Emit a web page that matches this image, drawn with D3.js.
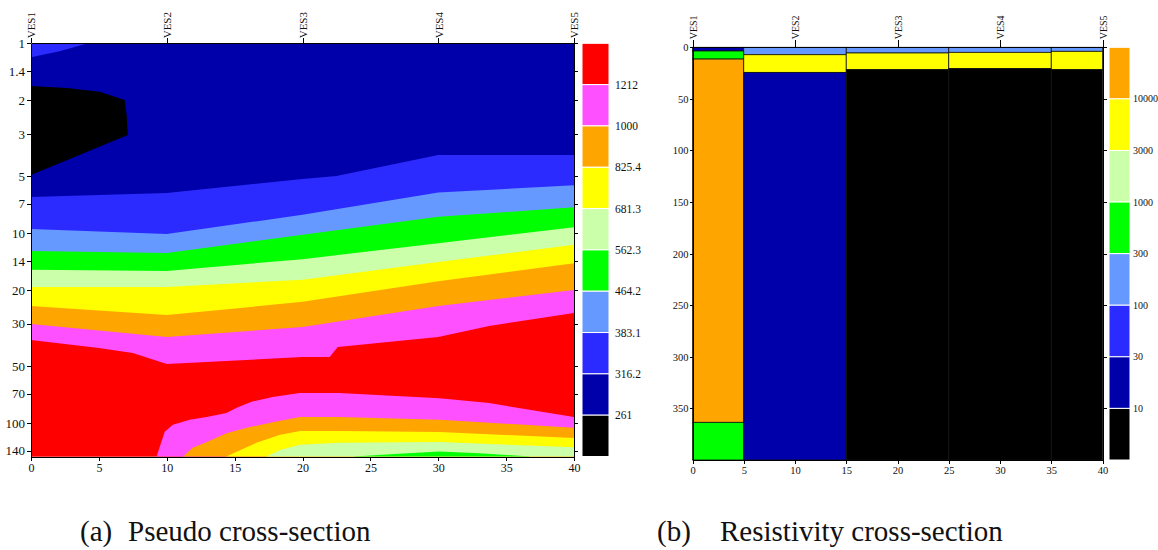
<!DOCTYPE html>
<html>
<head>
<meta charset="utf-8">
<script src="https://cdn.jsdelivr.net/npm/d3@7"></script>
<style>
	body { margin: 0; background: #fff; }
	svg text { font-family: "Liberation Serif", "Times New Roman", serif; fill: #111; }
	.axis path, .axis line { stroke: #000; shape-rendering: crispEdges; }
</style>
</head>
<body>
<svg id="chart" width="1158" height="550"></svg>
<script>
// ---------- data ----------
const vesNames = ['VES1', 'VES2', 'VES3', 'VES4', 'VES5'];
const vesPos = [0, 10, 20, 30, 40];

// pseudo section (AB/2 in m, log axis)
const pseudoTicks = [1, 1.4, 2, 3, 5, 7, 10, 14, 20, 30, 50, 70, 100, 140];
const pseudoLevels = [1212, 1000, 825.4, 681.3, 562.3, 464.2, 383.1, 316.2, 261];
const pseudoColors = ['#ff0000', '#ff50ff', '#ffa500', '#ffff00', '#ccffaa', '#00ff00', '#6699ff', '#2b2bff', '#0000aa', '#000000'];

// contour boundaries read from the section: [distance, AB/2]
const topBlue = [[0, 1.185], [2.1, 1.1], [4.2, 1.0]];
const blackZone = [[0, 1.68], [2.65, 1.72], [5.07, 1.8], [6.9, 1.99], [7.05, 2.4], [7.13, 3.04], [0, 4.94]];
const toBlue = [[0, 6.45], [10, 6.14], [20, 5.18], [22.5, 5.0], [30, 3.88], [40, 3.88]];
const toLightBlue = [[0, 9.5], [10, 10.1], [20, 8.0], [30, 6.1], [40, 5.6]];
const toGreen = [[0, 12.4], [10, 12.7], [20, 10.2], [30, 8.2], [40, 7.3]];
const toPaleGreen = [[0, 15.6], [10, 15.8], [20, 13.7], [30, 11.3], [40, 9.3]];
const toYellow = [[0, 19.2], [10, 19.2], [20, 17.6], [30, 14.2], [40, 11.5]];
const toOrange = [[0, 24.2], [10, 27.0], [20, 23.0], [30, 17.9], [40, 14.4]];
const toMagenta = [[0, 30.1], [10, 35.2], [20, 31.2], [30, 24.2], [40, 19.9]];
const toRed = [[0, 36.5], [5, 40.2], [7.5, 42.7], [10, 48.9], [20, 44.9], [22, 44.9], [22.6, 39.7], [30, 35.2], [33.75, 30.8], [40, 26.3]];
const lowMagenta = [[9.25, 150], [9.85, 111], [10.45, 102], [11.7, 96], [12.95, 93], [14.4, 88.5], [15.15, 83], [16.3, 77], [17.8, 73], [19.8, 69.5], [22.7, 69.5], [25.15, 71], [30.1, 74], [33.75, 78.5], [40, 93]];
const lowOrange = [[11.2, 150], [11.9, 135], [12.95, 126], [14.4, 113], [16.1, 105], [17.8, 99], [19.8, 93], [22.7, 93], [30.1, 96], [40, 106]];
const lowYellow = [[14.4, 150], [15.4, 139], [16.6, 127], [18.3, 115.5], [19.8, 110], [22.7, 110], [30.1, 111.5], [40, 120]];
const lowPaleGreen = [[17.35, 150], [18.3, 139], [19.8, 130], [22.7, 127], [30.1, 126], [40, 134]];
const lowGreen = [[23.8, 150], [27.1, 145], [30.1, 141], [33.0, 144], [36.7, 150]];

// resistivity section (depth in m)
const resEdges = [0, 5, 15, 25, 35, 40];
const resTicks = [0, 50, 100, 150, 200, 250, 300, 350];
const resLevels = [10000, 3000, 1000, 300, 100, 30, 10];
const resColors = ['#ffa500', '#ffff00', '#ccffaa', '#00ff00', '#6699ff', '#2b2bff', '#0000aa', '#000000'];
// [top, bottom, resistivity]
const ves1Layers = [[0, 3.6, 20], [3.6, 11.4, 500], [11.4, 363.5, 15000], [363.5, 400, 500]];
const ves2Layers = [[0, 7.2, 150], [7.2, 24.3, 5000], [24.3, 400, 20]];
const ves3Layers = [[0, 5.5, 150], [5.5, 21.7, 5000], [21.7, 400, 5]];
const ves4Layers = [[0, 4.9, 150], [4.9, 20.7, 5000], [20.7, 400, 5]];
const ves5Layers = [[0, 3.9, 150], [3.9, 21.7, 5000], [21.7, 400, 5]];

const svg = d3.select('#chart');

// ================= (a) pseudo cross-section =================
const xL = d3.scaleLinear().domain([0, 40]).range([31, 574]);
const yL = d3.scaleLog().domain([1, 150]).range([43.3, 456.5]);

svg.append('clipPath').attr('id', 'clipL')
	.append('rect')
	.attr('x', xL(0)).attr('y', yL(1))
	.attr('width', xL(40) - xL(0)).attr('height', yL(150) - yL(1));

const gL = svg.append('g').attr('clip-path', 'url(#clipL)');

gL.append('rect')
	.attr('x', xL(0)).attr('y', yL(1))
	.attr('width', xL(40) - xL(0)).attr('height', yL(150) - yL(1))
	.attr('fill', pseudoColors[8]);

// small blue patch at the top left
gL.append('path')
	.datum(topBlue)
	.attr('fill', pseudoColors[7])
	.attr('d', d3.area().x(p => xL(p[0])).y0(yL(1)).y1(p => yL(p[1])));

gL.append('path')
	.datum(blackZone)
	.attr('fill', pseudoColors[9])
	.attr('d', d3.line().x(p => xL(p[0])).y(p => yL(p[1])).curve(d3.curveLinearClosed));

const bands = [
	[toBlue, 7], [toLightBlue, 6], [toGreen, 5], [toPaleGreen, 4], [toYellow, 3],
	[toOrange, 2], [toMagenta, 1], [toRed, 0],
	[lowMagenta, 1], [lowOrange, 2], [lowYellow, 3], [lowPaleGreen, 4], [lowGreen, 5]
];

const bandArea = d3.area()
	.x(p => xL(p[0]))
	.y0(p => yL(p[1]))
	.y1(yL(150) + 2);

bands.forEach(b => {
	gL.append('path')
		.datum(b[0])
		.attr('fill', pseudoColors[b[1]])
		.attr('d', bandArea);
});

// axes
svg.append('g').attr('class', 'axis')
	.attr('transform', `translate(${xL(0)},0)`)
	.call(d3.axisLeft(yL).tickValues(pseudoTicks).tickFormat(d => d).tickSize(4).tickSizeOuter(0).tickPadding(2))
	.selectAll('text').style('font-size', '13px');

svg.append('g').attr('class', 'axis')
	.attr('transform', `translate(${xL(40)},0)`)
	.call(d3.axisRight(yL).tickValues(pseudoTicks).tickFormat('').tickSize(4).tickSizeOuter(0));

svg.append('g').attr('class', 'axis')
	.attr('transform', `translate(0,${yL(150)})`)
	.call(d3.axisBottom(xL).tickValues(d3.range(0, 41, 5)).tickSize(4).tickSizeOuter(0).tickPadding(3))
	.selectAll('text').style('font-size', '12px');

svg.append('g').attr('class', 'axis')
	.attr('transform', `translate(0,${yL(1)})`)
	.call(d3.axisTop(xL).tickValues(vesPos).tickFormat('').tickSize(5).tickSizeOuter(0));

svg.append('g').selectAll('text')
	.data(vesNames)
	.enter().append('text')
	.attr('transform', (d, i) => `translate(${xL(vesPos[i]) + 0.5},${yL(1) - 5}) rotate(-90)`)
	.attr('dy', '0.36em')
	.style('font-size', '11px')
	.text(d => d);

// legend
const legL = svg.append('g');
const boxL = (yL(150) - yL(1)) / pseudoColors.length;
legL.selectAll('rect')
	.data(pseudoColors)
	.enter().append('rect')
	.attr('x', 582).attr('width', 27)
	.attr('y', (d, i) => yL(1) + i * boxL)
	.attr('height', boxL)
	.attr('fill', d => d)
	.attr('stroke', '#fff').attr('stroke-width', 1);
legL.selectAll('text')
	.data(pseudoLevels)
	.enter().append('text')
	.attr('x', 615)
	.attr('y', (d, i) => yL(1) + (i + 1) * boxL)
	.attr('dy', '0.35em')
	.style('font-size', '11.5px')
	.text(d => d);

// ================= (b) resistivity cross-section =================
const xR = d3.scaleLinear().domain([0, 40]).range([692.5, 1102.5]);
const yR = d3.scaleLinear().domain([0, 400]).range([47.3, 460]);
const resColor = d3.scaleThreshold().domain(resLevels.slice().reverse()).range(resColors.slice().reverse());

const allLayers = [ves1Layers, ves2Layers, ves3Layers, ves4Layers, ves5Layers];
const gR = svg.append('g');
allLayers.forEach((layers, i) => {
	gR.selectAll(null)
		.data(layers)
		.enter().append('rect')
		.attr('x', xR(resEdges[i]))
		.attr('width', xR(resEdges[i + 1]) - xR(resEdges[i]))
		.attr('y', d => yR(d[0]))
		.attr('height', d => yR(d[1]) - yR(d[0]))
		.attr('fill', d => resColor(d[2]))
		.attr('stroke', '#111').attr('stroke-width', 0.8);
});

svg.append('g').attr('class', 'axis')
	.attr('transform', `translate(${xR(0)},0)`)
	.call(d3.axisLeft(yR).tickValues(resTicks).tickSize(3).tickSizeOuter(0).tickPadding(1))
	.selectAll('text').style('font-size', '10.5px');

svg.append('g').attr('class', 'axis')
	.attr('transform', `translate(${xR(40)},0)`)
	.call(d3.axisRight(yR).tickValues(resTicks).tickFormat('').tickSize(4).tickSizeOuter(0));

svg.append('g').attr('class', 'axis')
	.attr('transform', `translate(0,${yR(400)})`)
	.call(d3.axisBottom(xR).tickValues(d3.range(0, 41, 5)).tickSize(4).tickSizeOuter(0).tickPadding(3))
	.selectAll('text').style('font-size', '10.5px');

svg.append('g').attr('class', 'axis')
	.attr('transform', `translate(0,${yR(0)})`)
	.call(d3.axisTop(xR).tickValues(vesPos).tickFormat('').tickSize(7).tickSizeOuter(0));

svg.append('g').selectAll('text')
	.data(vesNames)
	.enter().append('text')
	.attr('transform', (d, i) => `translate(${xR(vesPos[i]) + 0.5},${yR(0) - 8}) rotate(-90)`)
	.attr('dy', '0.36em')
	.style('font-size', '10px')
	.text(d => d);

const legR = svg.append('g');
const boxR = (yR(400) - yR(0)) / resColors.length;
legR.selectAll('rect')
	.data(resColors)
	.enter().append('rect')
	.attr('x', 1109).attr('width', 21)
	.attr('y', (d, i) => yR(0) + i * boxR)
	.attr('height', boxR)
	.attr('fill', d => d)
	.attr('stroke', '#fff').attr('stroke-width', 1);
legR.selectAll('text')
	.data(resLevels)
	.enter().append('text')
	.attr('x', 1133)
	.attr('y', (d, i) => yR(0) + (i + 1) * boxR)
	.attr('dy', '0.35em')
	.style('font-size', '10px')
	.text(d => d);

// captions
const captions = [
	{ tag: '(a)', text: 'Pseudo cross-section', x: 80, x2: 128 },
	{ tag: '(b)', text: 'Resistivity cross-section', x: 657, x2: 720 }
];
captions.forEach(c => {
	svg.append('text').attr('x', c.x).attr('y', 541).style('font-size', '29px').text(c.tag);
	svg.append('text').attr('x', c.x2).attr('y', 541).style('font-size', '29px').text(c.text);
});
</script>
</body>
</html>
